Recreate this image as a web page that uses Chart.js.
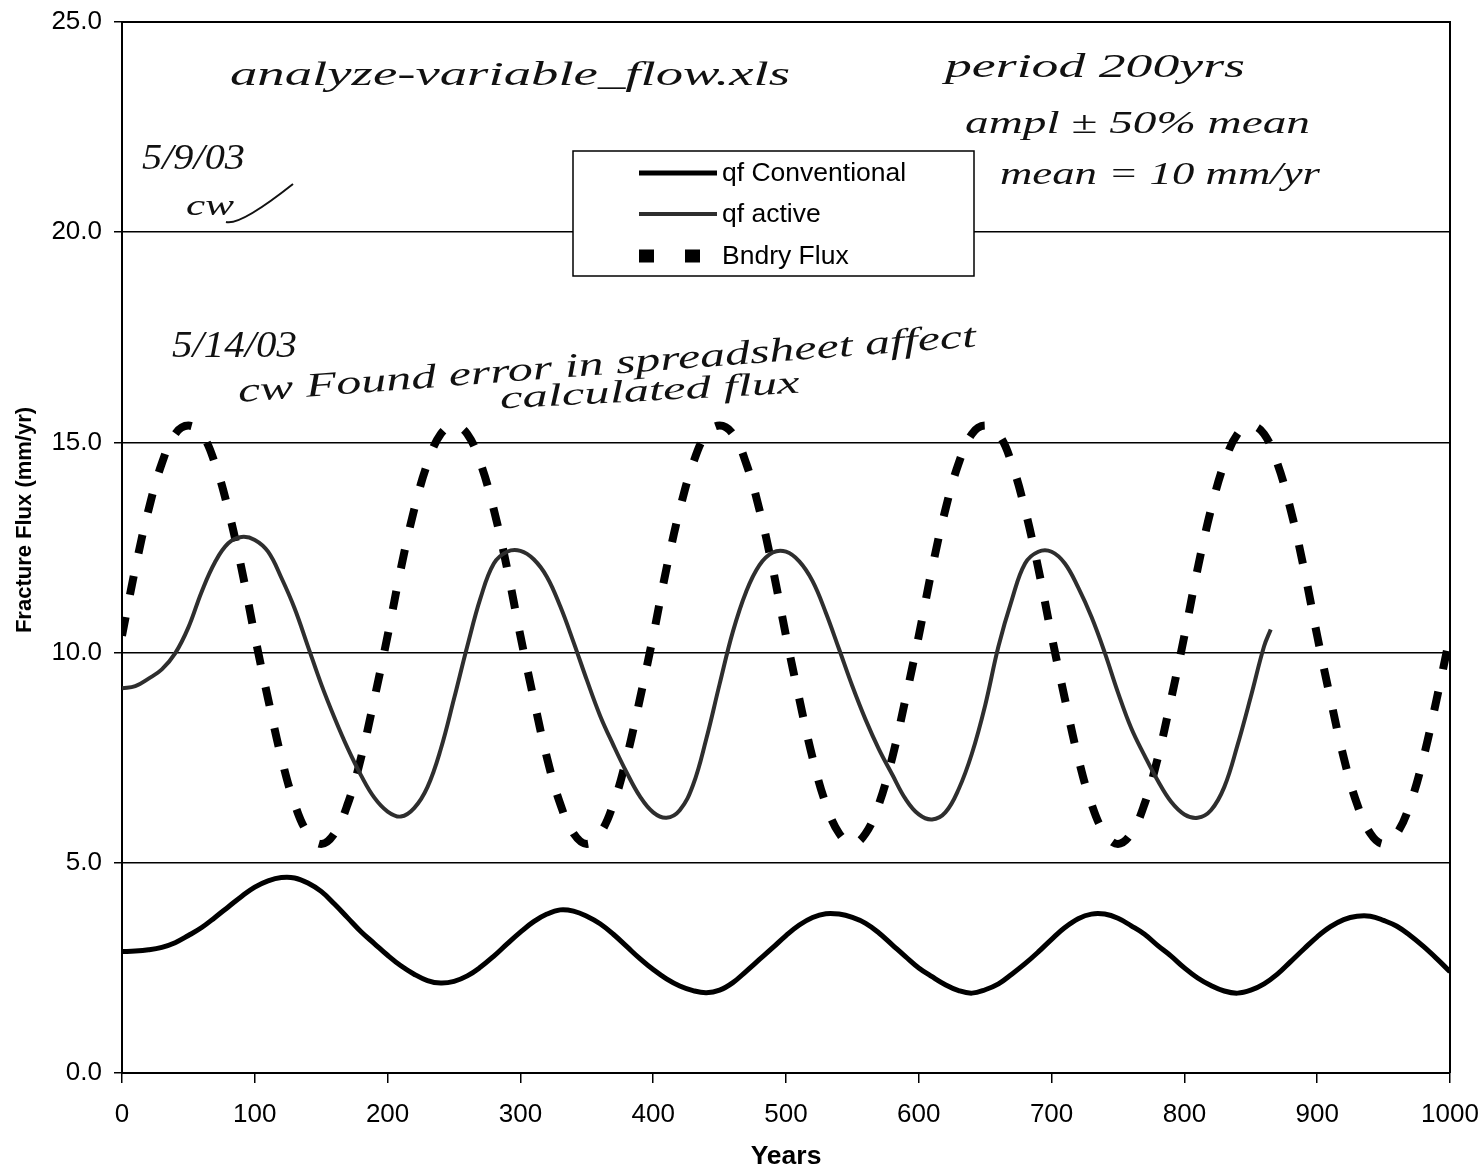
<!DOCTYPE html>
<html>
<head>
<meta charset="utf-8">
<script src="https://cdn.jsdelivr.net/npm/chart.js@4.4.1/dist/chart.umd.min.js"></script>
<style>
html,body{margin:0;padding:0;background:#fff;}
#wrap{width:1483px;height:1173px;position:relative;background:#fff;}
</style>
</head>
<body>
<div id="wrap"><canvas id="c" width="1483" height="1173"></canvas></div>
<script>
// ---- data ----
const years = [0,10,20,30,40,50,60,70,80,90,100,110,120,130,140,150,160,170,180,190,
  200,210,220,230,240,250,260,270,280,290,300,310,320,330,340,350,360,370,380,390,
  400,410,420,430,440,450,460,470,480,490,500,510,520,530,540,550,560,570,580,590,
  600,610,620,630,640,650,660,670,680,690,700,710,720,730,740,750,760,770,780,790,
  800,810,820,830,840,850,860,870,880,890,900,910,920,930,940,950,960,970,980,990,1000];

const qfConventional = [
  2.89,2.90,2.93,2.99,3.10,3.27,3.46,3.70,3.95,4.20,
  4.42,4.57,4.65,4.64,4.52,4.32,4.02,3.69,3.36,3.08,
  2.80,2.55,2.35,2.20,2.14,2.18,2.31,2.52,2.78,3.07,
  3.35,3.60,3.78,3.88,3.85,3.73,3.55,3.30,3.01,2.72,
  2.46,2.24,2.07,1.96,1.91,1.97,2.15,2.42,2.70,2.98,
  3.27,3.52,3.70,3.79,3.78,3.70,3.56,3.33,3.05,2.77,
  2.50,2.29,2.10,1.96,1.90,1.98,2.12,2.35,2.60,2.88,
  3.18,3.46,3.67,3.78,3.78,3.68,3.50,3.30,3.03,2.78,
  2.50,2.26,2.08,1.95,1.90,1.97,2.12,2.35,2.65,2.95,
  3.24,3.48,3.65,3.73,3.73,3.63,3.49,3.27,3.01,2.72,
  2.41];

const activeYears = years.slice(0, 87).concat([865]);
const qfActive = [
  9.15,9.20,9.38,9.60,9.98,10.60,11.45,12.15,12.60,12.75,
  12.68,12.40,11.78,11.05,10.15,9.25,8.45,7.72,7.08,6.55,
  6.22,6.10,6.30,6.80,7.70,8.90,10.15,11.30,12.12,12.40,
  12.42,12.22,11.80,11.10,10.25,9.35,8.50,7.80,7.15,6.58,
  6.20,6.07,6.25,6.85,7.95,9.25,10.50,11.45,12.08,12.38,
  12.40,12.17,11.70,10.95,10.08,9.20,8.40,7.70,7.10,6.52,
  6.15,6.03,6.20,6.75,7.60,8.75,10.15,11.25,12.12,12.40,
  12.40,12.12,11.55,10.85,10.00,9.05,8.20,7.55,6.95,6.45,
  6.15,6.07,6.25,6.80,7.80,8.95,10.15,
  10.55];

const bndryFlux = [
  10.4,12.0,13.4,14.5,15.2,15.4,15.2,14.5,13.4,12.0,10.4,8.9,7.5,6.4,5.7,5.45,5.7,6.4,7.5,8.9,
  10.4,12.0,13.4,14.5,15.2,15.4,15.2,14.5,13.4,12.0,10.4,8.9,7.5,6.4,5.7,5.45,5.7,6.4,7.5,8.9,
  10.4,12.0,13.4,14.5,15.2,15.4,15.2,14.5,13.4,12.0,10.4,8.9,7.5,6.4,5.7,5.45,5.7,6.4,7.5,8.9,
  10.4,12.0,13.4,14.5,15.2,15.4,15.2,14.5,13.4,12.0,10.4,8.9,7.5,6.4,5.7,5.45,5.7,6.4,7.5,8.9,
  10.4,12.0,13.4,14.5,15.2,15.4,15.2,14.5,13.4,12.0,10.4,8.9,7.5,6.4,5.7,5.45,5.7,6.4,7.5,8.9,
  10.4];

const xTicks = [0,100,200,300,400,500,600,700,800,900,1000];
const yTicks = [0,5,10,15,20,25];
const seriesNames = ['qf Conventional','qf active','Bndry Flux'];
const yTitle = 'Fracture Flux (mm/yr)';
const xTitle = 'Years';

// handwritten notes on the page
const notes = [
  {text:'analyze-variable_flow.xls', x:230, y:76, w:560, size:34, angle:0},
  {text:'period 200yrs', x:945, y:68, w:300, size:34, angle:0},
  {text:'ampl \u00B1 50% mean', x:965, y:125, w:345, size:32, angle:0},
  {text:'mean = 10 mm/yr', x:1000, y:176, w:320, size:32, angle:0},
  {text:'5/9/03', x:142, y:160, w:103, size:36, angle:0},
  {text:'cw', x:186, y:207, w:48, size:30, angle:0},
  {text:'5/14/03', x:172, y:347, w:125, size:38, angle:0},
  {text:'cw Found error in spreadsheet affect', x:238, y:393, w:740, size:34, angle:-4.3},
  {text:'calculated flux', x:500, y:400, w:300, size:32, angle:-3}
];

const FONT = '"Liberation Sans", Arial, sans-serif';

// ---- plugins ----
const framePlugin = {
  id:'frame',
  afterDatasetsDraw(chart){
    const {ctx, chartArea:a} = chart;
    ctx.save();
    ctx.strokeStyle = '#000';
    ctx.lineWidth = 2;
    ctx.beginPath();
    ctx.moveTo(a.left, a.top); ctx.lineTo(a.right, a.top); ctx.lineTo(a.right, a.bottom);
    ctx.stroke();
    ctx.restore();
  }
};

const yTitlePlugin = {
  id:'yTitle',
  afterDraw(chart){
    const ctx = chart.ctx;
    ctx.save();
    ctx.translate(25, 520);
    ctx.rotate(-Math.PI/2);
    ctx.font = 'bold 22px ' + FONT;
    ctx.fillStyle = '#000';
    ctx.textAlign = 'center';
    ctx.textBaseline = 'middle';
    ctx.fillText(yTitle, 0, 0);
    ctx.restore();
  }
};

const legendPlugin = {
  id:'customLegend',
  afterDatasetsDraw(chart){
    const ctx = chart.ctx;
    const box = {x:573, y:151, w:401, h:125};
    ctx.save();
    ctx.fillStyle = '#fff';
    ctx.fillRect(box.x, box.y, box.w, box.h);
    ctx.strokeStyle = '#000';
    ctx.lineWidth = 1.5;
    ctx.strokeRect(box.x, box.y, box.w, box.h);
    const rows = [173, 214, 256];
    chart.data.datasets.forEach((ds, i) => {
      const y = rows[i];
      ctx.save();
      ctx.strokeStyle = ds.borderColor;
      if (i === 2) {
        ctx.lineWidth = 13;
        ctx.setLineDash([15, 31]);
        ctx.lineCap = 'butt';
      } else {
        ctx.lineWidth = ds.borderWidth;
        ctx.setLineDash([]);
      }
      ctx.beginPath();
      ctx.moveTo(639, y); ctx.lineTo(717, y);
      ctx.stroke();
      ctx.restore();
      ctx.fillStyle = '#000';
      ctx.font = '26.5px ' + FONT;
      ctx.textBaseline = 'middle';
      ctx.fillText(seriesNames[i], 722, y + 1);
    });
    ctx.restore();
  }
};

const notesPlugin = {
  id:'notes',
  afterDraw(chart){
    const ctx = chart.ctx;
    notes.forEach(n => {
      ctx.save();
      ctx.font = 'italic ' + n.size + 'px "Liberation Serif", "DejaVu Serif", serif';
      const m = ctx.measureText(n.text).width;
      ctx.translate(n.x, n.y);
      ctx.rotate(n.angle * Math.PI / 180);
      ctx.scale(n.w / m, 1);
      ctx.textBaseline = 'middle';
      ctx.fillStyle = '#111';
      ctx.fillText(n.text, 0, 0);
      ctx.restore();
    });
    // signature flourish after "cw"
    ctx.save();
    ctx.strokeStyle = '#111';
    ctx.lineWidth = 2;
    ctx.beginPath();
    ctx.moveTo(226, 222);
    ctx.quadraticCurveTo(240, 226, 293, 184);
    ctx.stroke();
    ctx.restore();
  }
};

// ---- chart ----
const ctx = document.getElementById('c').getContext('2d');
new Chart(ctx, {
  type:'line',
  data:{
    datasets:[
      {label:seriesNames[0], data:years.map((x,i)=>({x:x, y:qfConventional[i]})),
       borderColor:'#000', borderWidth:5, pointRadius:0, fill:false, tension:0.4},
      {label:seriesNames[1], data:activeYears.map((x,i)=>({x:x, y:qfActive[i]})),
       borderColor:'#2e2e2e', borderWidth:4, pointRadius:0, fill:false, tension:0.4},
      {label:seriesNames[2], data:years.map((x,i)=>({x:x, y:bndryFlux[i]})),
       borderColor:'#000', borderWidth:8, borderDash:[19,23], borderCapStyle:'butt',
       pointRadius:0, fill:false, tension:0.4}
    ]
  },
  options:{
    responsive:false,
    animation:false,
    layout:{padding:{left:0, right:33, top:22, bottom:0}},
    plugins:{legend:{display:false}, tooltip:{enabled:false}},
    scales:{
      x:{
        type:'linear', min:0, max:1000,
        afterBuildTicks:s=>{ s.ticks = xTicks.map(v=>({value:v})); },
        afterFit:s=>{ s.height = 100; s.paddingLeft = 0; s.paddingRight = 0; },
        grid:{drawOnChartArea:false, drawTicks:true, tickLength:10, color:'#000', lineWidth:1.5},
        border:{color:'#000', width:2},
        ticks:{color:'#000', font:{family:FONT, size:26}, padding:16, maxRotation:0, autoSkip:false, callback:v=>String(v)},
        title:{display:true, text:xTitle, color:'#000', font:{family:FONT, size:26.5, weight:'bold'}, padding:{top:0, bottom:0}}
      },
      y:{
        type:'linear', min:0, max:25,
        afterBuildTicks:s=>{ s.ticks = yTicks.map(v=>({value:v})); },
        afterFit:s=>{ s.width = 122; s.paddingTop = 0; s.paddingBottom = 0; },
        grid:{color:'#000', lineWidth:1.5, tickLength:8},
        border:{color:'#000', width:2},
        ticks:{color:'#000', font:{family:FONT, size:26}, padding:12, callback:v=>Number(v).toFixed(1)},
        title:{display:false}
      }
    }
  },
  plugins:[framePlugin, legendPlugin, notesPlugin, yTitlePlugin]
});
</script>
</body>
</html>
